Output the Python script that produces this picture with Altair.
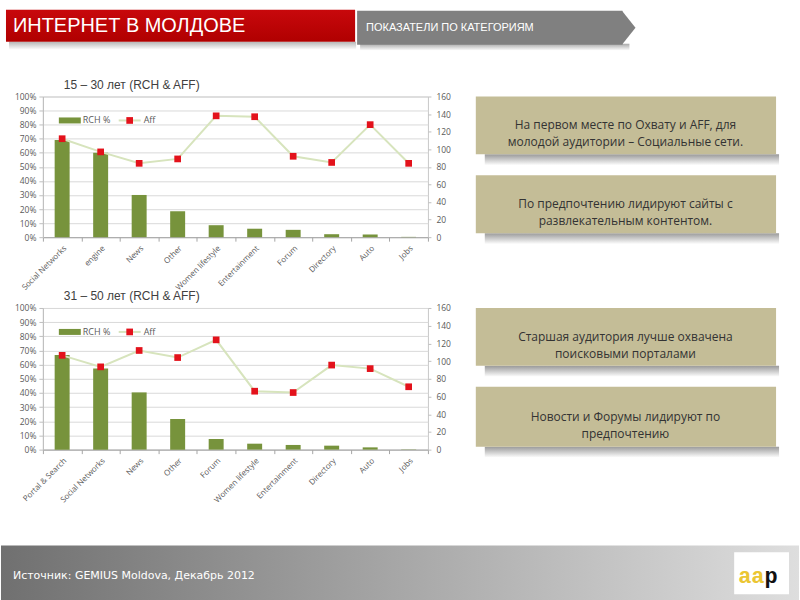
import altair as alt
import pandas as pd

# ---------------- data ----------------
cats_young = ["Social Networks", "engine", "News", "Other", "Women lifestyle",
              "Entertainment", "Forum", "Directory", "Auto", "Jobs"]
rch_young = [69, 60, 30, 18.5, 8.5, 6, 5.2, 2.1, 1.9, 0.2]
aff_young = [112, 97, 84, 89, 138, 137, 92, 85, 128, 84]

cats_adult = ["Portal & Search", "Social Networks", "News", "Other", "Forum",
              "Women lifestyle", "Entertainment", "Directory", "Auto", "Jobs"]
rch_adult = [66.8, 57.2, 40.4, 21.7, 7.5, 4.2, 3.3, 2.8, 1.6, 0.2]
aff_adult = [106.5, 93.5, 112, 104, 124, 66, 64.5, 95.5, 91.5, 71]

pct_ticks = list(range(0, 101, 10))
aff_ticks = list(range(0, 161, 20))

title_main = "ИНТЕРНЕТ В МОЛДОВЕ"
title_sub = "ПОКАЗАТЕЛИ ПО КАТЕГОРИЯМ"
title_young = "15 – 30 лет (RCH & AFF)"
title_adult = "31 – 50 лет (RCH & AFF)"
notes = [
    "На первом месте по Охвату и AFF, для\nмолодой аудитории – Социальные сети.",
    "По предпочтению лидируют сайты с\nразвлекательным контентом.",
    "Старшая аудитория лучше охвачена\nпоисковыми порталами",
    "Новости и Форумы лидируют по\nпредпочтению",
]
source = "Источник: GEMIUS Moldova, Декабрь 2012"

# ---------------- style ----------------
GREEN = "#77933C"
LINE = "#D7E4BD"
RED = "#E3121B"
GRID = "#D9D9D9"
AXTXT = "#595959"
TAN = "#C4BD97"
FONT = "Open Sans"

W = 386
H1, H2 = 141, 142
TOP = (42, 95)       # absolute origin of the top plot
BOT = (42, 307)      # absolute origin of the bottom plot

one = pd.DataFrame({"k": [0]})


def rect(o, x1, y1, x2, y2, **kw):
    return alt.Chart(one).mark_rect(**kw).encode(
        x=alt.value(x1 - o[0]), x2=alt.value(x2 - o[0]),
        y=alt.value(y1 - o[1]), y2=alt.value(y2 - o[1]))


def text(o, x, y, s, **kw):
    return alt.Chart(one).mark_text(**kw).encode(
        x=alt.value(x - o[0]), y=alt.value(y - o[1]), text=alt.value(s))


def vgrad(c1, c2):
    return alt.Gradient(gradient="linear", x1=0, x2=0, y1=0, y2=1,
                        stops=[alt.GradientStop(color=c1, offset=0),
                               alt.GradientStop(color=c2, offset=1)])


def hgrad(stops):
    return alt.Gradient(gradient="linear", x1=0, x2=1, y1=0, y2=0,
                        stops=[alt.GradientStop(color=c, offset=f) for f, c in stops])


def legend(o, title):
    ox, oy = o
    parts = [
        text(o, ox + 21, oy - 12, title, font="Liberation Sans", fontSize=12,
             color="#404040", align="left", baseline="middle"),
        rect(o, ox + 16, oy + 21, ox + 38, oy + 27, fill=GREEN),
        text(o, ox + 40, oy + 24, "RCH %", font=FONT, fontSize=9, color=AXTXT,
             align="left", baseline="middle"),
        alt.Chart(one).mark_rule(color=LINE, strokeWidth=2).encode(
            x=alt.value(76), x2=alt.value(98), y=alt.value(24)),
        alt.Chart(one).mark_square(color=RED, size=45, opacity=1).encode(
            x=alt.value(87), y=alt.value(24)),
        text(o, ox + 101, oy + 24, "Aff", font=FONT, fontSize=9, color=AXTXT,
             align="left", baseline="middle"),
    ]
    return parts


def panel(cats, rch, aff, h, o, title, extra):
    df = pd.DataFrame({"cat": cats, "rch": rch, "aff": aff})
    base = alt.Chart(df)
    xenc = alt.X("cat:N", sort=cats, title=None,
                 scale=alt.Scale(paddingInner=0, paddingOuter=0),
                 axis=alt.Axis(labelAngle=-45, labelFontSize=8, labelColor=AXTXT,
                               labelFont=FONT, tickBand="extent", tickSize=4,
                               tickColor="#A6A6A6", domainColor="#A6A6A6",
                               labelPadding=3, grid=False, labelLimit=200))
    bars = base.mark_bar(color=GREEN, width=15).encode(
        x=xenc,
        y=alt.Y("rch:Q", title=None,
                scale=alt.Scale(domain=[0, 100], nice=False),
                axis=alt.Axis(values=pct_ticks, labelExpr="datum.value + '%'",
                              grid=True, gridColor=GRID, tickSize=4,
                              tickColor="#BFBFBF", domainColor="#BFBFBF",
                              labelFont=FONT, labelFontSize=8.5, labelColor=AXTXT,
                              labelPadding=3)))
    yaff = alt.Y("aff:Q", title=None,
                 scale=alt.Scale(domain=[0, 160], nice=False),
                 axis=alt.Axis(orient="right", values=aff_ticks, grid=False,
                               tickSize=3, tickColor="#BFBFBF", domain=False,
                               labelFont=FONT, labelFontSize=8.5, labelColor=AXTXT,
                               labelPadding=5))
    line = base.mark_line(color=LINE, strokeWidth=2).encode(
        x=alt.X("cat:N", sort=cats), y=yaff)
    pts = base.mark_square(color=RED, size=45, opacity=1).encode(
        x=alt.X("cat:N", sort=cats), y=yaff)
    layers = extra + legend(o, title)
    return alt.layer(*layers, bars, alt.layer(line, pts)).resolve_scale(
        y="independent").properties(width=W, height=h)


# ---------------- slide decorations (drawn around the top panel) ----------------
o = TOP
deco = [
    rect(o, 0, 0, 800, 600, fill="white", opacity=0),
    # header
    rect(o, 8, 40, 356, 48, fill=vgrad("#b5b5b5", "#ffffff")),
    rect(o, 5, 8, 355, 40, fill=vgrad("#C8080C", "#B00000")),
    text(o, 12, 24, title_main, font="Liberation Sans", fontSize=20, color="white",
         align="left", baseline="middle"),
    rect(o, 360, 42, 630, 49, fill=vgrad("#a8a8a8", "#ffffff")),
    rect(o, 357, 9, 623, 43, fill="#808080"),
    alt.Chart(one).mark_point(shape="M0,-1L0.8,0L0,1Z", filled=True, opacity=1,
                              size=34 * 34, color="#808080").encode(
        x=alt.value(622.5 - o[0]), y=alt.value(26 - o[1])),
    text(o, 366, 26, title_sub, font="Liberation Sans", fontSize=11, color="white",
         align="left", baseline="middle"),
    # footer
    rect(o, 0, 545, 800, 600, fill=hgrad([(0, "#707070"), (0.5, "#a7a7a7"),
                                          (0.9, "#d3d3d3"), (1, "#dedede")])),
    text(o, 12, 576, source, font="DejaVu Sans", fontSize=11, color="white",
         align="left", baseline="middle"),
    rect(o, 735, 552, 790, 594, fill="white"),
    text(o, 739, 576, "aa", font="Liberation Mono", fontSize=22, fontWeight="bold",
         color="#EBC633", align="left", baseline="middle"),
    text(o, 765.5, 576, "p", font="Liberation Mono", fontSize=22, fontWeight="bold",
         color="#111111", align="left", baseline="middle"),
]
boxes = [(95, 153), (174, 232), (307, 365), (386, 446)]
for (y1, y2), note in zip(boxes, notes):
    deco.append(rect(o, 485, y2, 780, y2 + 11, fill=vgrad("#9a9a9a", "#ffffff")))
    deco.append(rect(o, 476, y1, 777, y2, fill=TAN))
    deco.append(text(o, 626, (y1 + y2) / 2, note, font=FONT, fontSize=12,
                     color="#333333", align="center", baseline="middle",
                     lineBreak="\n", lineHeight=17))

top = panel(cats_young, rch_young, aff_young, H1, TOP, title_young, deco)
bottom = panel(cats_adult, rch_adult, aff_adult, H2, BOT, title_adult, [])

chart = alt.vconcat(top, bottom, spacing=BOT[1] - (TOP[1] + H1), bounds="flush").properties(
    padding=0, background="white"
).configure_view(stroke="#C8C8C8", strokeWidth=1)

chart.save("out.html", embed_options={"renderer": "svg", "actions": False})
